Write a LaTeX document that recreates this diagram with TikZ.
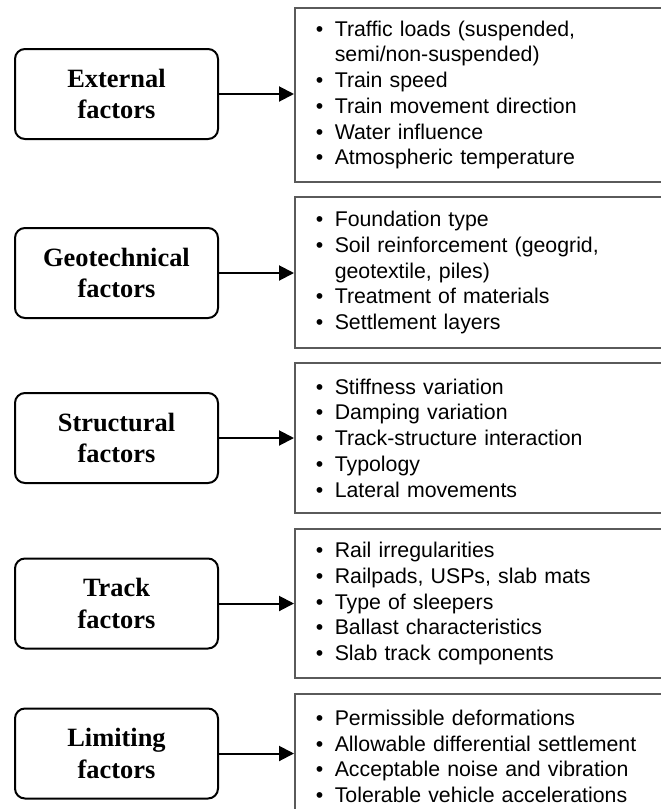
\documentclass[tikz,border=0pt]{standalone}
\usepackage{fontspec}
\setmainfont{Liberation Sans}
\newfontfamily\factorfont{Liberation Serif}
\usetikzlibrary{arrows.meta}

\definecolor{listgray}{RGB}{90,90,90}
\newcommand{\bul}{\makebox[19pt][l]{•}}
\newcommand{\cont}{\hspace*{19pt}}

\begin{document}
\begin{tikzpicture}
            [x=1pt, y=-1pt, >={Triangle[length=15pt,width=15pt]}, line width=2pt,
             factor/.style={draw=black, rounded corners=10pt, minimum width=203pt, minimum height=90pt,
                            inner sep=0pt, align=center, font=\factorfont\bfseries\fontsize{26.4}{31.7}\selectfont},
             list/.style={draw=listgray, line width=1.6pt, anchor=west, text width=450pt, align=left,
                          inner xsep=21pt, inner ysep=0pt, font=\fontsize{21.3}{25.7}\selectfont}]
            \clip (0,0) rectangle (661,809);

            % factor groups
            \node[factor] (ext) at (116.5, 94) {External\\factors};
            \node[factor] (geo) at (116.5, 273) {Geotechnical\\factors};
            \node[factor] (str) at (116.5, 438) {Structural\\factors};
            \node[factor] (trk) at (116.5, 603.5) {Track\\factors};
            \node[factor] (lim) at (116.5, 753.5) {Limiting\\factors};

            % lists
            \node[list, minimum height=174pt] (extlist) at (294, 95)
                {\bul Traffic loads (suspended,\\\cont semi/non-suspended)\\\bul Train speed\\\bul Train movement direction\\\bul Water influence\\\bul Atmospheric temperature};
            \node[list, minimum height=151pt] (geolist) at (294, 272.5)
                {\bul Foundation type\\\bul Soil reinforcement (geogrid,\\\cont geotextile, piles)\\\bul Treatment of materials\\\bul Settlement layers};
            \node[list, minimum height=150pt] (strlist) at (294, 438)
                {\bul Stiffness variation\\\bul Damping variation\\\bul Track-structure interaction\\\bul Typology\\\bul Lateral movements};
            \node[list, minimum height=149pt] (trklist) at (294, 603.5)
                {\bul Rail irregularities\\\bul Railpads, USPs, slab mats\\\bul Type of sleepers\\\bul Ballast characteristics\\\bul Slab track components};
            \node[list, minimum height=125pt] (limlist) at (294, 756.5)
                {\bul Permissible deformations\\\bul Allowable differential settlement\\\bul Acceptable noise and vibration\\\bul Tolerable vehicle accelerations};

            \path [->] (ext) edge (ext -| extlist.west);
            \path [->] (geo) edge (geo -| geolist.west);
            \path [->] (str) edge (str -| strlist.west);
            \path [->] (trk) edge (trk -| trklist.west);
            \path [->] (lim) edge (lim -| limlist.west);
        \end{tikzpicture}
\end{document}
